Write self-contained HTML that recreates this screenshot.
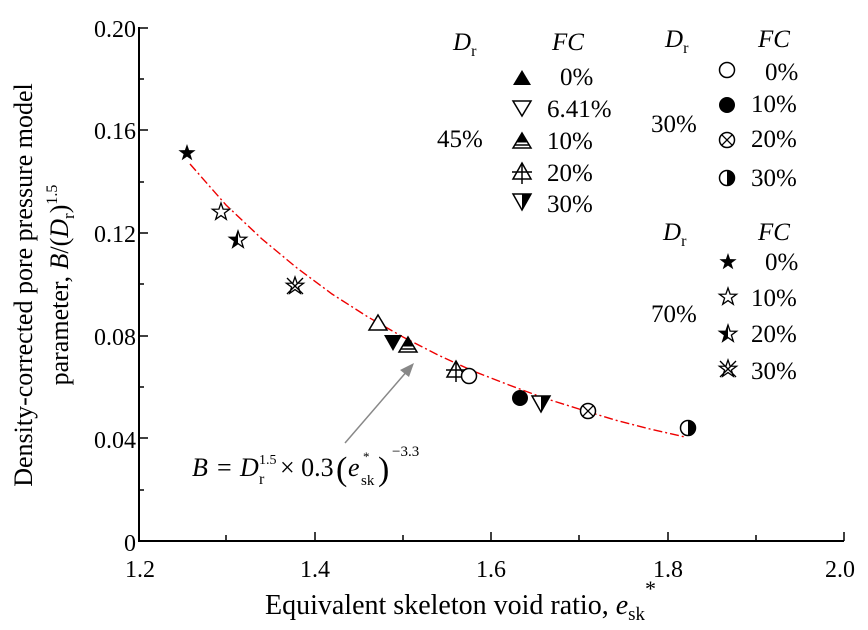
<!DOCTYPE html>
<html><head><meta charset="utf-8"><style>
html,body{margin:0;padding:0;background:#fff;}
svg{display:block;}
svg text{font-family:"Liberation Serif","DejaVu Serif",serif !important;fill:#000;}
</style></head><body>
<svg width="868" height="630" viewBox="0 0 868 630" xmlns="http://www.w3.org/2000/svg" font-family="Liberation Serif, DejaVu Serif, serif">
<defs>
<polygon id="star" points="0,-9 2.1,-2.9 8.6,-2.8 3.4,1.1 5.3,7.3 0,3.6 -5.3,7.3 -3.4,1.1 -8.6,-2.8 -2.1,-2.9"/>
<g id="mTriF"><polygon points="0,-8 9,7 -9,7" fill="#000"/></g>
<g id="mTriDO"><polygon points="-9,-7 9,-7 0,8" fill="#fff" stroke="#000" stroke-width="1.5"/></g>
<g id="mTriH"><polygon points="0,-8 9,7 -9,7" fill="#fff" stroke="#000" stroke-width="1.5"/><polygon points="0,-8 5.6,1.5 -5.6,1.5" fill="#000"/><line x1="-7" y1="4" x2="7" y2="4" stroke="#000" stroke-width="1.5"/></g>
<g id="mTriX"><polygon points="0,-9 9,7 -9,7" fill="none" stroke="#000" stroke-width="1.5"/><line x1="-10" y1="0" x2="10" y2="0" stroke="#000" stroke-width="1.5"/><line x1="0" y1="-9" x2="0" y2="12" stroke="#000" stroke-width="1.5"/></g>
<g id="mTriDH"><polygon points="-9,-7 9,-7 0,9" fill="#fff" stroke="#000" stroke-width="1.5"/><polygon points="0,-7 9,-7 0,9" fill="#000"/></g>
<g id="mCirO"><circle r="7.5" fill="#fff" stroke="#000" stroke-width="1.5"/></g>
<g id="mCirF"><circle r="8" fill="#000"/></g>
<g id="mCirX"><circle r="7.5" fill="#fff" stroke="#000" stroke-width="1.5"/><line x1="-5.3" y1="-5.3" x2="5.3" y2="5.3" stroke="#000" stroke-width="1.3"/><line x1="-5.3" y1="5.3" x2="5.3" y2="-5.3" stroke="#000" stroke-width="1.3"/></g>
<g id="mCirH"><circle r="7.5" fill="#fff" stroke="#000" stroke-width="1.5"/><path d="M0,-8 A8,8 0 0 1 0,8 Z" fill="#000"/></g>
<g id="mStarF"><use href="#star" fill="#000"/></g>
<g id="mStarO"><use href="#star" fill="#fff" stroke="#000" stroke-width="1.3"/></g>
<g id="mStarH"><use href="#star" fill="#fff" stroke="#000" stroke-width="1.3"/><polygon points="0,-9 -2.1,-2.9 -8.6,-2.8 -3.4,1.1 -5.3,7.3 0,3.6" fill="#000"/></g>
<g id="mStarX"><use href="#star" fill="none" stroke="#000" stroke-width="1.3"/><line x1="-8" y1="-8" x2="8" y2="8" stroke="#000" stroke-width="1.3"/><line x1="-8" y1="8" x2="8" y2="-8" stroke="#000" stroke-width="1.3"/></g>
</defs>

<!-- axes -->
<line x1="139" y1="27" x2="139" y2="541" stroke="#000" stroke-width="2"/>
<line x1="138" y1="541" x2="844" y2="541" stroke="#000" stroke-width="2"/>
<g stroke="#000" stroke-width="1.5">
<line x1="139" y1="28" x2="148" y2="28"/><line x1="139" y1="79" x2="144" y2="79"/>
<line x1="139" y1="130" x2="148" y2="130"/><line x1="139" y1="182" x2="144" y2="182"/>
<line x1="139" y1="233" x2="148" y2="233"/><line x1="139" y1="284" x2="144" y2="284"/>
<line x1="139" y1="336" x2="148" y2="336"/><line x1="139" y1="387" x2="144" y2="387"/>
<line x1="139" y1="438" x2="148" y2="438"/><line x1="139" y1="490" x2="144" y2="490"/>
<line x1="226" y1="541" x2="226" y2="535"/><line x1="315" y1="541" x2="315" y2="532"/>
<line x1="403" y1="541" x2="403" y2="535"/><line x1="491" y1="541" x2="491" y2="532"/>
<line x1="579" y1="541" x2="579" y2="535"/><line x1="668" y1="541" x2="668" y2="532"/>
<line x1="756" y1="541" x2="756" y2="535"/><line x1="844" y1="541" x2="844" y2="532"/>
</g>
<g font-size="24" text-anchor="end">
<text x="136" y="37">0.20</text><text x="136" y="139">0.16</text>
<text x="136" y="242">0.12</text><text x="136" y="345">0.08</text>
<text x="136" y="448">0.04</text><text x="136" y="551">0</text>
</g>
<g font-size="24" text-anchor="middle">
<text x="140" y="577">1.2</text><text x="315" y="577">1.4</text>
<text x="491" y="577">1.6</text><text x="668" y="577">1.8</text><text x="840" y="577">2.0</text>
</g>
<text x="265" y="614" font-size="28">Equivalent skeleton void ratio,  <tspan font-style="italic">e</tspan><tspan font-size="19" dy="6">sk</tspan><tspan font-size="22" dy="-24">*</tspan></text>
<g transform="translate(32,285) rotate(-90)" font-size="26" text-anchor="middle">
<text x="0" y="0">Density-corrected pore pressure model</text>
<text x="0" y="36">parameter, <tspan font-style="italic">B</tspan>/(<tspan font-style="italic">D</tspan><tspan font-size="17" dy="6">r</tspan><tspan dy="-6">)</tspan><tspan font-size="16" dy="-11">1.5</tspan></text>
</g>

<!-- curve -->
<path fill="none" stroke="#e00" stroke-width="1.4" stroke-dasharray="9,3,2,3" d="M190,164 L226,205 L262,239 L297,268 L332,294 L368,317 L403,337 L438,355 L473,371 L509,385 L544,398 L579,409 L615,420 L650,429 L685,437"/>

<!-- arrow -->
<line x1="345" y1="443" x2="408" y2="370" stroke="#888" stroke-width="1.5"/>
<polygon points="414,363 400,370 409,377" fill="#888"/>
<text x="192" y="476" font-size="26" font-style="italic">B</text>
<text x="217" y="476" font-size="26">=</text>
<text x="240" y="476" font-size="26" font-style="italic">D</text>
<text x="259" y="464" font-size="14">1.5</text>
<text x="259" y="484" font-size="16">r</text>
<text x="280" y="476" font-size="26">× 0.3</text>
<text x="336" y="480" font-size="34" transform="scale(1,1)">(</text>
<text x="348" y="476" font-size="26" font-style="italic">e</text>
<text x="363" y="461" font-size="13">*</text>
<text x="361" y="485" font-size="15">sk</text>
<text x="378" y="480" font-size="34">)</text>
<text x="392" y="456" font-size="15">−3.3</text>

<!-- data -->
<use href="#mStarF" x="187" y="153"/>
<use href="#mStarO" x="221" y="212"/>
<use href="#mStarH" x="238" y="240"/>
<use href="#mStarX" x="295" y="286"/>
<g transform="translate(378,323)"><polygon points="0,-8 9,7 -9,7" fill="#fff" stroke="#000" stroke-width="1.5"/></g>
<g transform="translate(393,342)"><polygon points="-9,-7 9,-7 0,9" fill="#000"/></g>
<use href="#mTriH" x="408" y="345"/>
<use href="#mTriX" x="456" y="370"/>
<use href="#mCirO" x="469" y="376"/>
<use href="#mCirF" x="520" y="398"/>
<use href="#mTriDH" x="541" y="403"/>
<use href="#mCirX" x="588" y="411"/>
<use href="#mCirH" x="688" y="428"/>

<!-- legend -->
<g font-size="25">
<text x="453" y="50" font-style="italic">D<tspan font-size="16" font-style="normal" dy="6">r</tspan></text>
<text x="552" y="50" font-style="italic">FC</text>
<text x="437" y="147">45%</text>
<text x="560" y="85">0%</text><text x="547" y="117">6.41%</text><text x="547" y="149">10%</text>
<text x="547" y="181">20%</text><text x="547" y="212">30%</text>
<text x="665" y="47" font-style="italic">D<tspan font-size="16" font-style="normal" dy="6">r</tspan></text>
<text x="758" y="47" font-style="italic">FC</text>
<text x="651" y="132">30%</text>
<text x="765" y="80">0%</text><text x="751" y="112">10%</text><text x="751" y="147">20%</text><text x="751" y="186">30%</text>
<text x="663" y="240" font-style="italic">D<tspan font-size="16" font-style="normal" dy="6">r</tspan></text>
<text x="758" y="240" font-style="italic">FC</text>
<text x="651" y="322">70%</text>
<text x="765" y="270">0%</text><text x="751" y="306">10%</text><text x="751" y="342">20%</text><text x="751" y="379">30%</text>
</g>
<use href="#mTriF" x="522" y="78"/>
<use href="#mTriDO" x="522" y="108"/>
<use href="#mTriH" x="522" y="141"/>
<use href="#mTriX" x="522" y="172"/>
<use href="#mTriDH" x="522" y="201"/>
<use href="#mCirO" x="727" y="70"/>
<use href="#mCirF" x="727" y="105"/>
<use href="#mCirX" x="727" y="140"/>
<use href="#mCirH" x="727" y="178"/>
<use href="#mStarF" x="728" y="262"/>
<use href="#mStarO" x="728" y="297"/>
<use href="#mStarH" x="728" y="334"/>
<use href="#mStarX" x="728" y="369"/>
</svg>
</body></html>
